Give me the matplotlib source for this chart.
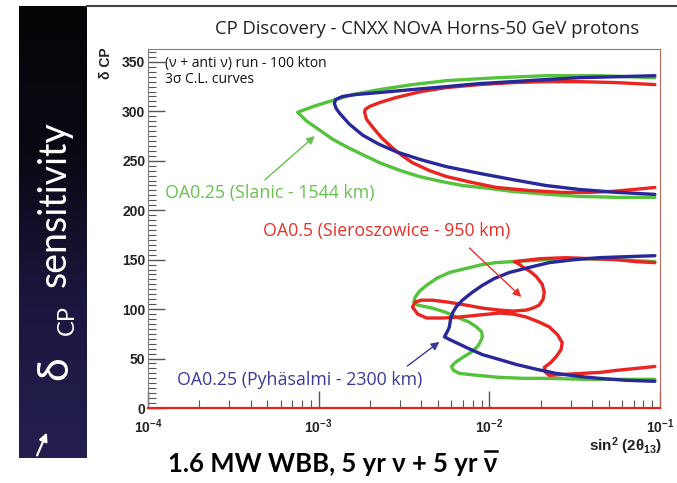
import matplotlib.pyplot as plt
import numpy as np
from matplotlib.colors import LinearSegmentedColormap
from matplotlib.lines import Line2D
from matplotlib.patches import FancyArrowPatch
from matplotlib.ticker import LogLocator, MultipleLocator, NullFormatter

plt.rcParams['mathtext.fontset'] = 'custom'
plt.rcParams['mathtext.rm'] = 'Liberation Sans'
plt.rcParams['mathtext.bf'] = 'Liberation Sans:bold'
plt.rcParams['mathtext.it'] = 'Liberation Sans:italic'

# 3 sigma contours, log10(sin^2 2theta13) vs delta_CP (deg)
# upper band (delta 200-340)
green_hi_log = [-1.03, -1.35, -1.667, -1.95, -2.251, -2.45, -2.643, -2.80, -2.918, -3.03,
                -3.123, -3.07, -2.994, -2.92, -2.836, -2.74, -2.643, -2.52, -2.409, -2.28,
                -2.158, -2.0, -1.865, -1.65, -1.474, -1.25, -1.03]
green_hi_dcp = [334, 336, 336, 334, 331, 327, 322, 317, 311, 305, 299, 290, 281, 272, 264,
                256, 248, 240, 234, 229, 225, 222, 219, 216, 214, 213, 213]

blue_hi_log = [-1.03, -1.25, -1.474, -1.68, -1.865, -2.06, -2.251, -2.45, -2.643, -2.78,
               -2.86, -2.90, -2.908, -2.898, -2.877, -2.82, -2.743, -2.65, -2.544, -2.40,
               -2.251, -2.05, -1.865, -1.67, -1.474, -1.25, -1.03]
blue_hi_dcp = [336, 335, 334, 332, 330, 328, 325, 322, 319, 317, 315, 312, 308, 303, 298,
               287, 276, 267, 259, 251, 244, 237, 231, 225, 221, 218, 216]

red_hi_log = [-1.03, -1.25, -1.474, -1.68, -1.865, -2.06, -2.251, -2.40, -2.544, -2.64,
              -2.70, -2.727, -2.731, -2.72, -2.684, -2.63, -2.567, -2.51, -2.450, -2.35,
              -2.251, -2.10, -1.959, -1.77, -1.573, -1.42, -1.281, -1.15, -1.03]
red_hi_dcp = [327, 329, 330, 330, 329, 327, 324, 320, 314, 309, 305, 302, 299, 292, 284,
              273, 263, 255, 248, 240, 234, 228, 223, 220, 218, 218, 219, 221, 223]

# lower band (delta 25-155)
green_lo_log = [-1.03, -1.25, -1.456, -1.66, -1.865, -1.96, -2.041, -2.14, -2.234, -2.31,
                -2.368, -2.41, -2.435, -2.442, -2.42, -2.333, -2.26, -2.193, -2.12, -2.076,
                -2.045, -2.041, -2.052, -2.070, -2.11, -2.158, -2.20, -2.222, -2.21, -2.175,
                -2.07, -1.942, -1.80, -1.649, -1.45, -1.257, -1.03]
green_lo_dcp = [148, 150, 151, 150, 148, 147, 145, 141, 137, 131, 124, 118, 112, 107, 104,
                101, 97, 92, 87, 82, 77, 72, 67, 62, 56, 51, 46, 42, 38, 35, 33, 31, 30,
                30, 29, 29, 29]

blue_lo_log = [-1.03, -1.20, -1.357, -1.50, -1.649, -1.77, -1.883, -1.97, -2.041, -2.10,
               -2.158, -2.195, -2.216, -2.228, -2.234, -2.247, -2.263, -2.23, -2.193, -2.12,
               -2.041, -1.94, -1.842, -1.72, -1.608, -1.48, -1.357, -1.20, -1.03]
blue_lo_dcp = [154, 153, 152, 150, 147, 142, 137, 131, 124, 117, 109, 102, 96, 89, 82, 77,
               72, 69, 66, 60, 54, 49, 44, 39, 35, 32, 30, 28, 27]

red_lo_log = [-1.03, -1.14, -1.257, -1.40, -1.550, -1.70, -1.854, -1.83, -1.807, -1.76,
              -1.725, -1.69, -1.678, -1.685, -1.708, -1.745, -1.784, -1.86, -1.942, -2.04,
              -2.135, -2.24, -2.333, -2.40, -2.435, -2.450, -2.42, -2.368, -2.27, -2.175,
              -2.06, -1.942, -1.86, -1.784, -1.71, -1.649, -1.60, -1.573, -1.58, -1.608,
              -1.64, -1.678, -1.67, -1.649, -1.56, -1.456, -1.35, -1.257, -1.14, -1.03]
red_lo_dcp = [147, 148, 150, 151, 152, 151, 148, 146, 143, 138, 133, 125, 117, 110, 104,
              101, 99, 98, 99, 101, 104, 107, 109, 109, 107, 102, 95, 91, 91, 92, 94, 96,
              95, 92, 87, 82, 74, 66, 59, 52, 46, 41, 36, 33, 34, 35, 36, 38, 40, 42]

y_ticks = [0, 50, 100, 150, 200, 250, 300, 350]
x_ticks = [1e-4, 1e-3, 1e-2, 1e-1]
x_tick_labels = [r'$\mathbf{10^{-4}}$', r'$\mathbf{10^{-3}}$', r'$\mathbf{10^{-2}}$', r'$\mathbf{10^{-1}}$']

c_green = '#55c23c'
c_red = '#ea2420'
c_blue = '#28289a'
t_green = '#66c24a'
t_red = '#ea3028'
t_blue = '#3a3a9c'

W, H = 677, 483
fig = plt.figure(figsize=(W / 100, H / 100), dpi=100)

def fx(px):
    return px / W

def fy(py):
    return 1 - py / H

# dark side banner with gradient
bax = fig.add_axes([fx(19), fy(458), fx(68), 452 / H])
cmap = LinearSegmentedColormap.from_list('band', ['#050507', '#0a0914', '#1b1740', '#241f4e'])
grad = np.linspace(0, 1, 256).reshape(-1, 1)
bax.imshow(grad, aspect='auto', cmap=cmap, extent=[0, 1, 1, 0])
bax.set_axis_off()

bfont = ['Lato', 'DejaVu Sans']
fig.text(fx(55), fy(368), 'δ', rotation=90, color='white', fontsize=31,
         family=bfont, ha='center', va='center')
fig.text(fx(67), fy(320), 'CP', rotation=90, color='white', fontsize=17,
         family=bfont, ha='center', va='center')
fig.text(fx(55), fy(204), 'sensitivity', rotation=90, color='white', fontsize=27,
         family=bfont, ha='center', va='center')
fig.add_artist(FancyArrowPatch((fx(36), fy(458)), (fx(48), fy(430)),
                               transform=fig.transFigure, arrowstyle='-|>',
                               mutation_scale=12, color='white', lw=1.6))

# thin frame line at top of the white panel
fig.add_artist(Line2D([fx(87), 1], [fy(6), fy(6)], color='#444444', lw=1.5))

ax = fig.add_axes([fx(148), fy(408), 512 / W, 359 / H])
kw = dict(lw=2.4, solid_joinstyle='round', solid_capstyle='round')
ax.plot(10 ** np.array(green_hi_log), green_hi_dcp, color=c_green, **kw)
ax.plot(10 ** np.array(red_hi_log), red_hi_dcp, color=c_red, **kw)
ax.plot(10 ** np.array(blue_hi_log), blue_hi_dcp, color=c_blue, **kw)
ax.plot(10 ** np.array(green_lo_log), green_lo_dcp, color=c_green, **kw)
ax.plot(10 ** np.array(red_lo_log), red_lo_dcp, color=c_red, **kw)
ax.plot(10 ** np.array(blue_lo_log), blue_lo_dcp, color=c_blue, **kw)

ax.set_xscale('log')
ax.set_xlim(1e-4, 1e-1)
ax.set_ylim(0, 363)
ax.set_yticks(y_ticks)
ax.yaxis.set_minor_locator(MultipleLocator(5))
ax.set_xticks(x_ticks)
ax.set_xticklabels(x_tick_labels)
ax.xaxis.set_minor_locator(LogLocator(base=10, subs=np.arange(2, 10)))
ax.xaxis.set_minor_formatter(NullFormatter())
ax.tick_params(which='both', direction='in', color='#555555', top=False, right=False,
               labelsize=10, labelcolor='#222222')
ax.tick_params(which='major', length=12, width=1)
ax.tick_params(axis='y', which='major', pad=2)
ax.tick_params(axis='x', which='major', pad=7)
ax.tick_params(which='minor', length=6, width=0.8)
for lab in ax.get_yticklabels():
    lab.set_fontweight('bold')
    lab.set_family('Liberation Sans')

for side in ['left', 'top']:
    ax.spines[side].set_color('#808080')
ax.spines['right'].set_color('#b86a5a')
ax.spines['bottom'].set_color('#e8201a')
ax.spines['bottom'].set_linewidth(1.6)

fig.text(fx(427), fy(29), 'CP Discovery - CNXX NOvA Horns-50 GeV protons', fontsize=13.3,
         family=['Open Sans', 'DejaVu Sans'], color='#222222', ha='center', va='center')
fig.text(fx(106), fy(47), 'δ CP', rotation=90, fontsize=10, fontweight='bold',
         family=['Liberation Sans', 'DejaVu Sans'], color='#222222', ha='center', va='top')
fig.text(fx(662), fy(446), r'$\mathbf{sin^{2}\ (2\theta_{13})}$', fontsize=11,
         color='#222222', ha='right', va='center')

ax.text(0.033, 0.961, '(ν + anti ν) run - 100 kton', transform=ax.transAxes, fontsize=10,
        family=['Open Sans', 'DejaVu Sans'], color='#111111', va='center')
ax.text(0.033, 0.914, '3σ C.L. curves', transform=ax.transAxes, fontsize=10,
        family=['Open Sans', 'DejaVu Sans'], color='#111111', va='center')

afont = ['Open Sans', 'DejaVu Sans']
arrow = dict(arrowstyle='-|>', lw=1, mutation_scale=12, shrinkA=0, shrinkB=0)
ax.text(1.26e-4, 217.5, 'OA0.25 (Slanic - 1544 km)', color=t_green, fontsize=12.8,
        family=afont, va='center', ha='left')
ax.annotate('', xy=(9.5e-4, 275), xytext=(4.83e-4, 230.6),
            arrowprops=dict(color=t_green, **arrow))
ax.text(4.71e-4, 179, 'OA0.5 (Sieroszowice - 950 km)', color=t_red, fontsize=12.8,
        family=afont, va='center', ha='left')
ax.annotate('', xy=(1.54e-2, 112.3), xytext=(7.64e-3, 161.8),
            arrowprops=dict(color=t_red, **arrow))
ax.text(1.48e-4, 28.3, 'OA0.25 (Pyhäsalmi - 2300 km)', color=t_blue, fontsize=12.8,
        family=afont, va='center', ha='left')
ax.annotate('', xy=(5.1e-3, 66.8), xytext=(3.31e-3, 42.5),
            arrowprops=dict(color=t_blue, **arrow))

# bottom caption, with a bar drawn over the last nu
cap = fig.text(fx(333), fy(464), '1.6 MW WBB, 5 yr ν + 5 yr ν', fontsize=18.5, fontweight='bold',
               family=['Lato', 'DejaVu Sans'], color='black', ha='center', va='center')
fig.canvas.draw()
r = fig.canvas.get_renderer()
bb = cap.get_window_extent(r)
nu = fig.text(0, 0, 'ν', fontsize=18.5, fontweight='bold', family=['Lato', 'DejaVu Sans'])
nw = nu.get_window_extent(r).width
nu.remove()
x1 = bb.x1 / W
x0 = (bb.x1 - nw) / W
ybar = (bb.y1 + 1) / H
fig.add_artist(Line2D([x0 + 1 / W, x1 - 1 / W], [ybar, ybar], color='black', lw=1.8))

fig.savefig('out.png', dpi=100)
